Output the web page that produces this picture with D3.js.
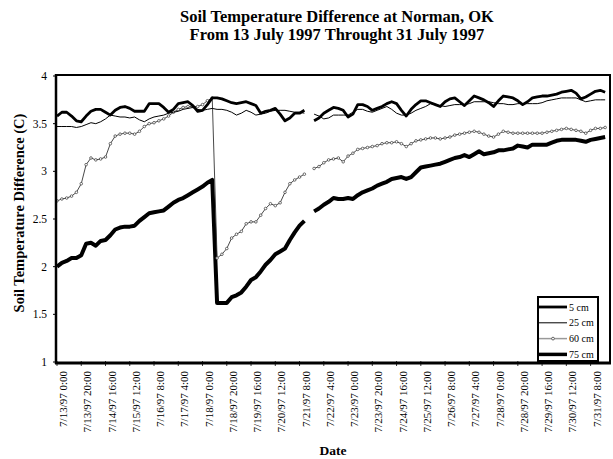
<!DOCTYPE html>
<html>
<head>
<meta charset="utf-8">
<script src="https://cdn.jsdelivr.net/npm/d3@7"></script>
<style>
  body { margin: 0; background: #fff; }
  text { font-family: "Liberation Serif", "Times New Roman", serif; fill: #000; }
</style>
</head>
<body>
<div id="chart"></div>
<script>
"use strict";

// readings every 4 hours starting 7/13/97 0:00 (null = missing)
const stepHours = 4;

const t5cm = [3.58,3.62,3.62,3.58,3.53,3.52,3.58,3.63,3.65,3.65,3.62,3.59,3.64,3.67,3.68,3.66,3.63,3.63,3.63,3.71,
 3.71,3.71,3.67,3.62,3.65,3.71,3.72,3.73,3.69,3.63,3.64,3.70,3.77,3.77,3.76,3.74,3.72,3.71,3.72,3.73,
 3.71,3.69,3.61,3.63,3.64,3.66,3.60,3.53,3.56,3.61,3.61,3.64,null,3.53,3.56,3.61,3.64,3.67,3.66,3.64,
 3.57,3.60,3.70,3.70,3.68,3.64,3.66,3.68,3.71,3.73,3.71,3.64,3.58,3.65,3.70,3.74,3.74,3.72,3.70,3.68,
 3.73,3.76,3.77,3.73,3.69,3.74,3.79,3.77,3.75,3.72,3.68,3.74,3.79,3.78,3.77,3.74,3.70,3.73,3.77,3.78,
 3.79,3.79,3.80,3.81,3.83,3.84,3.85,3.82,3.76,3.78,3.81,3.84,3.85,3.83];

const t25cm = [3.47,3.47,3.47,3.47,3.46,3.47,3.49,3.51,3.50,3.52,3.55,3.59,3.58,3.57,3.57,3.56,3.57,3.54,3.52,3.55,
 3.57,3.58,3.59,3.61,3.62,3.63,3.65,3.66,3.67,3.65,3.64,3.65,3.66,3.65,3.65,3.64,3.62,3.59,3.61,3.64,
 3.62,3.59,3.60,3.61,3.63,3.64,3.64,3.64,3.63,3.62,3.62,3.61,null,3.60,3.58,3.55,3.56,3.59,3.59,3.59,
 3.59,3.62,3.65,3.65,3.63,3.62,3.64,3.66,3.68,3.65,3.61,3.59,3.59,3.61,3.64,3.66,3.68,3.71,3.70,3.69,
 3.68,3.69,3.70,3.70,3.70,3.71,3.73,3.73,3.73,3.73,3.72,3.71,3.71,3.70,3.70,3.71,3.71,3.71,3.71,3.71,
 3.72,3.74,3.75,3.76,3.77,3.77,3.77,3.77,3.75,3.73,3.74,3.75,3.75,3.75];

const t60cm = [2.69,2.71,2.72,2.74,2.78,2.87,3.07,3.14,3.12,3.13,3.15,3.29,3.37,3.39,3.40,3.40,3.39,3.42,3.47,3.50,
 3.51,3.53,3.55,3.58,3.62,3.65,3.67,3.68,3.68,3.68,3.70,3.74,3.77,2.09,2.13,2.19,2.30,2.34,2.37,2.45,
 2.47,2.47,2.54,2.61,2.66,2.64,2.67,2.78,2.87,2.91,2.94,2.97,null,3.03,3.05,3.09,3.12,3.13,3.14,3.10,
 3.16,3.19,3.23,3.24,3.25,3.26,3.27,3.29,3.30,3.30,3.31,3.29,3.26,3.29,3.32,3.33,3.34,3.35,3.35,3.34,
 3.35,3.36,3.38,3.39,3.40,3.41,3.42,3.41,3.39,3.37,3.36,3.39,3.42,3.41,3.40,3.40,3.40,3.40,3.40,3.40,
 3.40,3.41,3.42,3.43,3.44,3.45,3.44,3.43,3.42,3.40,3.43,3.45,3.45,3.46];

const t75cm = [2.00,2.04,2.06,2.09,2.09,2.12,2.24,2.25,2.22,2.27,2.28,2.33,2.39,2.41,2.42,2.42,2.43,2.48,2.52,2.56,
 2.57,2.58,2.59,2.63,2.67,2.70,2.72,2.75,2.78,2.81,2.84,2.88,2.91,1.62,1.62,1.62,1.68,1.70,1.73,1.79,
 1.86,1.89,1.95,2.02,2.07,2.13,2.16,2.19,2.28,2.36,2.43,2.48,null,2.58,2.61,2.65,2.68,2.72,2.71,2.71,
 2.72,2.71,2.75,2.78,2.80,2.82,2.85,2.87,2.89,2.92,2.93,2.94,2.92,2.94,2.99,3.04,3.05,3.06,3.07,3.08,
 3.10,3.12,3.14,3.15,3.17,3.15,3.18,3.21,3.18,3.19,3.20,3.22,3.22,3.23,3.24,3.27,3.26,3.25,3.28,3.28,
 3.28,3.28,3.30,3.32,3.33,3.33,3.33,3.33,3.32,3.31,3.33,3.34,3.35,3.36];

const seriesNames = ["5 cm", "25 cm", "60 cm", "75 cm"];

const tickLabels = ["7/13/97 0:00","7/13/97 20:00","7/14/97 16:00","7/15/97 12:00","7/16/97 8:00",
 "7/17/97 4:00","7/18/97 0:00","7/18/97 20:00","7/19/97 16:00","7/20/97 12:00","7/21/97 8:00",
 "7/22/97 4:00","7/23/97 0:00","7/23/97 20:00","7/24/97 16:00","7/25/97 12:00","7/26/97 8:00",
 "7/27/97 4:00","7/28/97 0:00","7/28/97 20:00","7/29/97 16:00","7/30/97 12:00","7/31/97 8:00"];
const tickStepHours = 20;

const yTicks = [1, 1.5, 2, 2.5, 3, 3.5, 4];

// create svg
let svg = d3.select("#chart")
.append("svg")
.attr("width", 613)
.attr("height", 459);

// scales
let xScale = d3.scaleLinear()
.domain([0, 456])
.range([57, 610]);

let yScale = d3.scaleLinear()
.domain([1, 4])
.range([362, 76]);

// title
svg.append("text")
.attr("x", 337).attr("y", 22)
.attr("text-anchor", "middle")
.style("font-size", "16.5px").style("font-weight", "bold")
.text("Soil Temperature Difference at Norman, OK");

svg.append("text")
.attr("x", 337).attr("y", 40)
.attr("text-anchor", "middle")
.style("font-size", "16.5px").style("font-weight", "bold")
.text("From 13 July 1997 Throught 31 July 1997");

// y axis labels and ticks
svg.selectAll(".ylab")
.data(yTicks)
.join("text")
.attr("class", "ylab")
.attr("x", 47)
.attr("y", d => yScale(d) + 4)
.attr("text-anchor", "end")
.style("font-size", "11.5px")
.text(d => d);

svg.selectAll(".ytick")
.data(yTicks)
.join("line")
.attr("class", "ytick")
.attr("x1", 53).attr("x2", 57)
.attr("y1", d => yScale(d)).attr("y2", d => yScale(d))
.attr("stroke", "#000").attr("stroke-width", 1);

// x axis labels
svg.selectAll(".xlab")
.data(tickLabels)
.join("text")
.attr("class", "xlab")
.attr("transform", (d, i) => "translate(" + (xScale(i * tickStepHours) + 10) + ",371) rotate(-90)")
.attr("text-anchor", "end")
.style("font-size", "11px")
.text(d => d);

svg.selectAll(".xtick")
.data(tickLabels)
.join("line")
.attr("class", "xtick")
.attr("x1", (d, i) => xScale(i * tickStepHours))
.attr("x2", (d, i) => xScale(i * tickStepHours))
.attr("y1", 361).attr("y2", 366)
.attr("stroke", "#000").attr("stroke-width", 0.8);

// axis titles
svg.append("text")
.attr("transform", "translate(24,213) rotate(-90)")
.attr("text-anchor", "middle")
.style("font-size", "14.5px").style("font-weight", "bold")
.text("Soil Temperature Difference (C)");

svg.append("text")
.attr("x", 333).attr("y", 455)
.attr("text-anchor", "middle")
.style("font-size", "13.5px").style("font-weight", "bold")
.text("Date");

// lines
function lineOf(values) {
  return d3.line()
  .defined(d => d.v != null)
  .x(d => xScale(d.i * stepHours))
  .y(d => yScale(d.v))(values.map((v, i) => ({i: i, v: v})));
}

svg.append("path").attr("d", lineOf(t75cm))
.attr("fill", "none").attr("stroke", "#000").attr("stroke-width", 4).attr("stroke-linejoin", "round");

svg.append("path").attr("d", lineOf(t60cm))
.attr("fill", "none").attr("stroke", "#333").attr("stroke-width", 0.9);

svg.selectAll(".m60")
.data(t60cm.map((v, i) => ({i: i, v: v})).filter(d => d.v != null))
.join("circle")
.attr("class", "m60")
.attr("cx", d => xScale(d.i * stepHours))
.attr("cy", d => yScale(d.v))
.attr("r", 1.3)
.attr("fill", "#fff").attr("stroke", "#333").attr("stroke-width", 0.7);

svg.append("path").attr("d", lineOf(t25cm))
.attr("fill", "none").attr("stroke", "#000").attr("stroke-width", 1);

svg.append("path").attr("d", lineOf(t5cm))
.attr("fill", "none").attr("stroke", "#000").attr("stroke-width", 2.8).attr("stroke-linejoin", "round");

// plot frame
svg.append("line").attr("x1", 56).attr("x2", 611).attr("y1", 75).attr("y2", 75)
.attr("stroke", "#000").attr("stroke-width", 2);
svg.append("line").attr("x1", 610).attr("x2", 610).attr("y1", 75).attr("y2", 363)
.attr("stroke", "#000").attr("stroke-width", 2);
svg.append("line").attr("x1", 56).attr("x2", 56).attr("y1", 74).attr("y2", 364)
.attr("stroke", "#000").attr("stroke-width", 2.5);
svg.append("line").attr("x1", 55).attr("x2", 611).attr("y1", 363).attr("y2", 363)
.attr("stroke", "#000").attr("stroke-width", 3);

// legend
svg.append("rect")
.attr("x", 538).attr("y", 297).attr("width", 60).attr("height", 64)
.attr("fill", "#fff").attr("stroke", "#000").attr("stroke-width", 2);

let legendStyles = [
  {w: 2.8, c: "#000", m: false},
  {w: 1, c: "#000", m: false},
  {w: 1.5, c: "#999", m: true},
  {w: 3.5, c: "#000", m: false}
];

for (let i = 0; i < seriesNames.length; i = i + 1) {
  let yy = 307 + i * 15.8;
  svg.append("line")
  .attr("x1", 539).attr("x2", 567)
  .attr("y1", yy).attr("y2", yy)
  .attr("stroke", legendStyles[i].c).attr("stroke-width", legendStyles[i].w);
  if (legendStyles[i].m) {
    svg.append("circle").attr("cx", 553).attr("cy", yy).attr("r", 1.4)
    .attr("fill", "#fff").attr("stroke", "#333").attr("stroke-width", 0.7);
  }
  svg.append("text")
  .attr("x", 569).attr("y", yy + 3.5)
  .style("font-size", "10px")
  .text(seriesNames[i]);
}
</script>
</body>
</html>
